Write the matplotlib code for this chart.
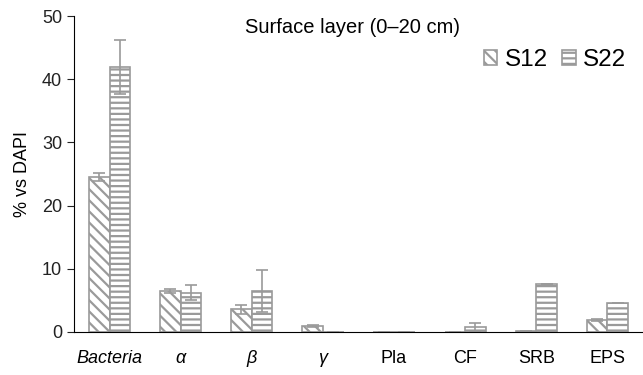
import matplotlib
matplotlib.use("Agg")
import matplotlib.pyplot as plt
import numpy as np

categories = ["Bacteria", "α", "β", "γ", "Pla", "CF", "SRB", "EPS"]
italic = [True, True, True, True, False, False, False, False]
s12 = [24.5, 6.5, 3.6, 0.9, 0.05, 0.05, 0.2, 1.9]
s12_err = [0.6, 0.3, 0.7, 0.2, 0.0, 0.0, 0.0, 0.1]
s22 = [41.9, 6.2, 6.5, 0.05, 0.05, 0.7, 7.6, 4.5]
s22_err = [4.3, 1.2, 3.3, 0.0, 0.0, 0.7, 0.0, 0.0]
yticks = [0, 10, 20, 30, 40, 50]

plt.rcParams['font.family'] = ['Liberation Sans', 'DejaVu Sans']
plt.rcParams['hatch.linewidth'] = 1.6
plt.rcParams['hatch.color'] = '#9a9a9a'

fig = plt.figure(figsize=(6.43, 3.75), dpi=100)
ax = fig.add_axes([0.115, 0.115, 0.885, 0.842])

x = np.arange(len(categories))
w = 0.29
gray = '#9a9a9a'
ax.bar(x - w/2, s12, w, facecolor='white', edgecolor=gray, hatch='\\\\\\', linewidth=1.2,
       yerr=s12_err, error_kw=dict(ecolor=gray, capsize=4, elinewidth=1.2, capthick=1.2), label='S12')
ax.bar(x + w/2, s22, w, facecolor='white', edgecolor=gray, hatch='---', linewidth=1.2,
       yerr=s22_err, error_kw=dict(ecolor=gray, capsize=4, elinewidth=1.2, capthick=1.2), label='S22')

ax.set_xlim(-0.5, 7.5)
ax.set_ylim(0, 50)
ax.set_yticks(yticks)
ax.tick_params(axis='y', labelsize=13, direction='out', length=5, colors='#222222')
ax.set_xticks(x)
ax.set_xticklabels(categories, fontsize=13)
for lbl, it in zip(ax.get_xticklabels(), italic):
    if it:
        lbl.set_style('italic')
ax.tick_params(axis='x', length=0, pad=13)
ax.spines['top'].set_visible(False)
ax.spines['right'].set_visible(False)
ax.set_ylabel('% vs DAPI', fontsize=13, labelpad=8)
ax.text(0.49, 0.995, 'Surface layer (0–20 cm)', transform=ax.transAxes, ha='center', va='top', fontsize=14.5)
ax.legend(loc='upper right', bbox_to_anchor=(1.0, 0.95), frameon=False, fontsize=17.5,
          handlelength=0.55, handleheight=0.55, handletextpad=0.3, columnspacing=0.6, ncol=2,
          borderpad=0.2)

fig.savefig('out.png', dpi=100)
